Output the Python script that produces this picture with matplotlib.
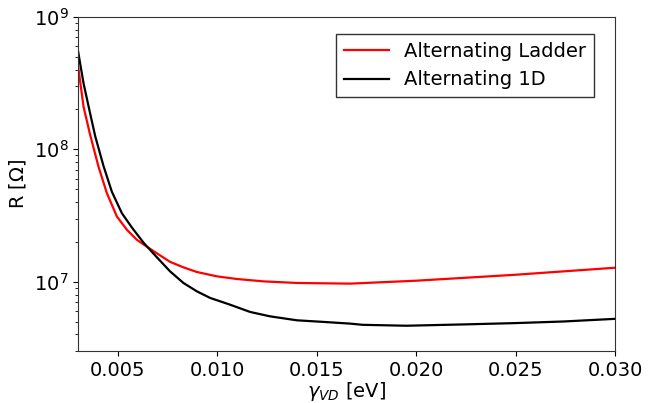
import matplotlib
matplotlib.use("Agg")
import matplotlib.pyplot as plt
import numpy as np

# values (gamma_VD in eV, log10 of R in Ohm)
gamma_ladder = [0.0030, 0.00327, 0.0036, 0.004021, 0.004443, 0.004946, 0.005449,
                0.005951, 0.006454, 0.006957, 0.007626, 0.008294, 0.008968,
                0.009974, 0.01098, 0.01232, 0.0140, 0.01668, 0.020, 0.025, 0.030]
logR_ladder = [8.623, 8.322, 8.110, 7.870, 7.669, 7.493, 7.393,
               7.317, 7.265, 7.215, 7.150, 7.109, 7.074,
               7.041, 7.021, 7.003, 6.991, 6.986, 7.008, 7.053, 7.106]

gamma_1d = [0.0030, 0.00327, 0.0036, 0.003855, 0.004272, 0.004694, 0.005197,
            0.0057, 0.006283, 0.006957, 0.007626, 0.008294, 0.008968,
            0.009637, 0.01064, 0.01165, 0.01265, 0.0140, 0.01533, 0.01668,
            0.0173, 0.0195, 0.0224, 0.025, 0.0274, 0.030]
logR_1d = [8.736, 8.498, 8.272, 8.100, 7.875, 7.680, 7.518,
           7.410, 7.296, 7.185, 7.078, 6.991, 6.928,
           6.878, 6.827, 6.772, 6.739, 6.709, 6.697, 6.684,
           6.675, 6.668, 6.678, 6.688, 6.700, 6.720]

R_ladder = 10 ** np.array(logR_ladder)
R_1d = 10 ** np.array(logR_1d)

fig = plt.figure(figsize=(6.57, 4.03), dpi=100)
ax = fig.add_axes([0.119, 0.129, 0.817, 0.829])

ax.plot(gamma_ladder, R_ladder, color="red", lw=1.6, label="Alternating Ladder")
ax.plot(gamma_1d, R_1d, color="black", lw=1.6, label="Alternating 1D")

ax.set_yscale("log")
ax.set_xlim(0.003, 0.030)
ax.set_ylim(3e6, 1e9)
ax.set_xticks([0.005, 0.010, 0.015, 0.020, 0.025, 0.030])
ax.set_xticklabels(["0.005", "0.010", "0.015", "0.020", "0.025", "0.030"])
ax.tick_params(labelsize=14)

ax.set_xlabel(r"$\gamma_{VD}$ [eV]", fontsize=14, labelpad=0)
ax.set_ylabel(r"R [$\Omega$]", fontsize=14)

for sp in ax.spines.values():
    sp.set_color("#333333")

leg = ax.legend(loc="upper right", bbox_to_anchor=(0.961, 0.949), borderaxespad=0,
                fontsize=14, fancybox=False, framealpha=1, edgecolor="#333333",
                handlelength=2.3)
leg.get_frame().set_linewidth(1.0)

fig.savefig("out.png", dpi=100)
